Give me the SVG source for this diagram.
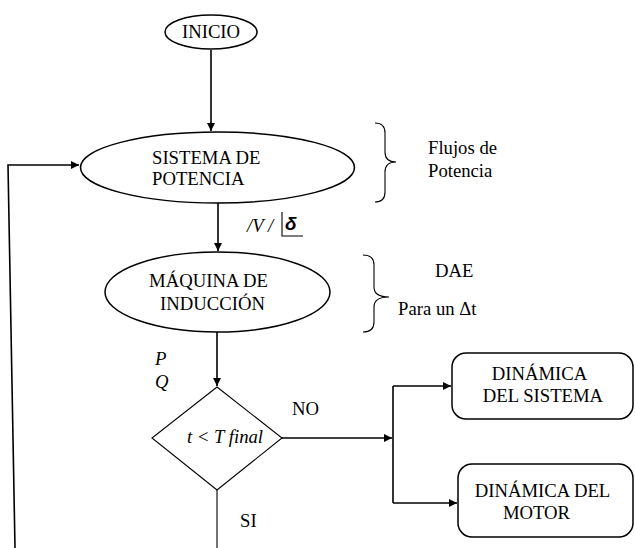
<svg xmlns="http://www.w3.org/2000/svg" width="635" height="548" viewBox="0 0 635 548">
<style>
.t{font-family:"Liberation Serif","Times New Roman",serif;font-size:18.7px;fill:#000}
.i{font-style:italic}
.m{text-anchor:middle}
.sh{fill:#fff;stroke:#000;stroke-width:1.5}
.ln{fill:none;stroke:#000;stroke-width:1.6}
.th{fill:none;stroke:#000;stroke-width:1.1}
</style>
<defs>
<marker id="ah" viewBox="0 0 10 10" refX="10" refY="5" markerWidth="8" markerHeight="8" markerUnits="userSpaceOnUse" orient="auto">
<path d="M0,0 L10,5 L0,10 Z" fill="#000"/>
</marker>
</defs>
<rect width="635" height="548" fill="#fff"/>
<g id="connectors">
<line class="ln" x1="211" y1="50" x2="211" y2="131" marker-end="url(#ah)"/>
<line class="ln" x1="218" y1="203" x2="218" y2="251" marker-end="url(#ah)"/>
<line class="ln" x1="217" y1="332" x2="217" y2="386" marker-end="url(#ah)"/>
<line class="ln" x1="282" y1="438" x2="392" y2="438" marker-end="url(#ah)"/>
<line class="ln" x1="393" y1="386" x2="393" y2="503"/>
<line class="ln" x1="393" y1="386" x2="451" y2="386" marker-end="url(#ah)"/>
<line class="ln" x1="393" y1="503" x2="457" y2="503" marker-end="url(#ah)"/>
<line class="th" x1="217" y1="490" x2="217" y2="548"/>
<path class="ln" d="M15,548 L8,165 L79,165" marker-end="url(#ah)"/>
</g>
<g id="inicio">
<ellipse class="sh" cx="211" cy="32" rx="46" ry="17"/>
<text class="t m" x="211" y="38">INICIO</text>
</g>
<g id="sistema">
<ellipse class="sh" cx="217.5" cy="167.5" rx="137" ry="35.5"/>
<text class="t" x="152" y="164">SISTEMA DE</text>
<text class="t" x="152" y="185">POTENCIA</text>
</g>
<g id="label-v">
<text class="t i" x="247" y="232">/V /</text>
<path class="th" d="M282,212 L282,236 L303,236"/>
<text x="285" y="230" font-family="Liberation Sans, Arial, sans-serif" font-size="19" font-style="italic" font-weight="bold">δ</text>
</g>
<g id="maquina">
<ellipse class="sh" cx="217.5" cy="292" rx="112.5" ry="40"/>
<text class="t m" x="208.5" y="287">MÁQUINA DE</text>
<text class="t m" x="212.5" y="310">INDUCCIÓN</text>
</g>
<g id="label-pq">
<text class="t i" x="155" y="365">P</text>
<text class="t i" x="155" y="388">Q</text>
</g>
<g id="decision">
<polygon class="th" points="217,387 282,438 217,490 152,438" fill="#fff"/>
<text class="t i m" x="225" y="443">t &lt; T final</text>
</g>
<g id="labels-branch">
<text class="t" x="292" y="415">NO</text>
<text class="t" x="240" y="527">SI</text>
</g>
<g id="dinamica-sistema">
<rect class="sh" x="452" y="353" width="181" height="66" rx="14"/>
<text class="t m" x="539.5" y="380">DINÁMICA</text>
<text class="t m" x="543" y="402">DEL SISTEMA</text>
</g>
<g id="dinamica-motor">
<rect class="sh" x="458" y="464" width="175" height="73" rx="14"/>
<text class="t m" x="542.5" y="497">DINÁMICA DEL</text>
<text class="t m" x="536.5" y="519">MOTOR</text>
</g>
<g id="brace-flujos">
<path class="th" d="M375,123 Q385,123 385,133 L385,152 Q385,162 396,162 Q385,162 385,172 L385,192 Q385,202 375,202"/>
<text class="t" x="428" y="154">Flujos de</text>
<text class="t" x="428" y="177">Potencia</text>
</g>
<g id="brace-dae">
<path class="th" d="M363,255 Q374,255 374,265 L374,287 Q374,297 389,297 Q374,297 374,307 L374,322 Q374,332 363,332"/>
<text class="t" x="435" y="277">DAE</text>
<text class="t" x="398" y="315">Para un Δt</text>
</g>
</svg>
